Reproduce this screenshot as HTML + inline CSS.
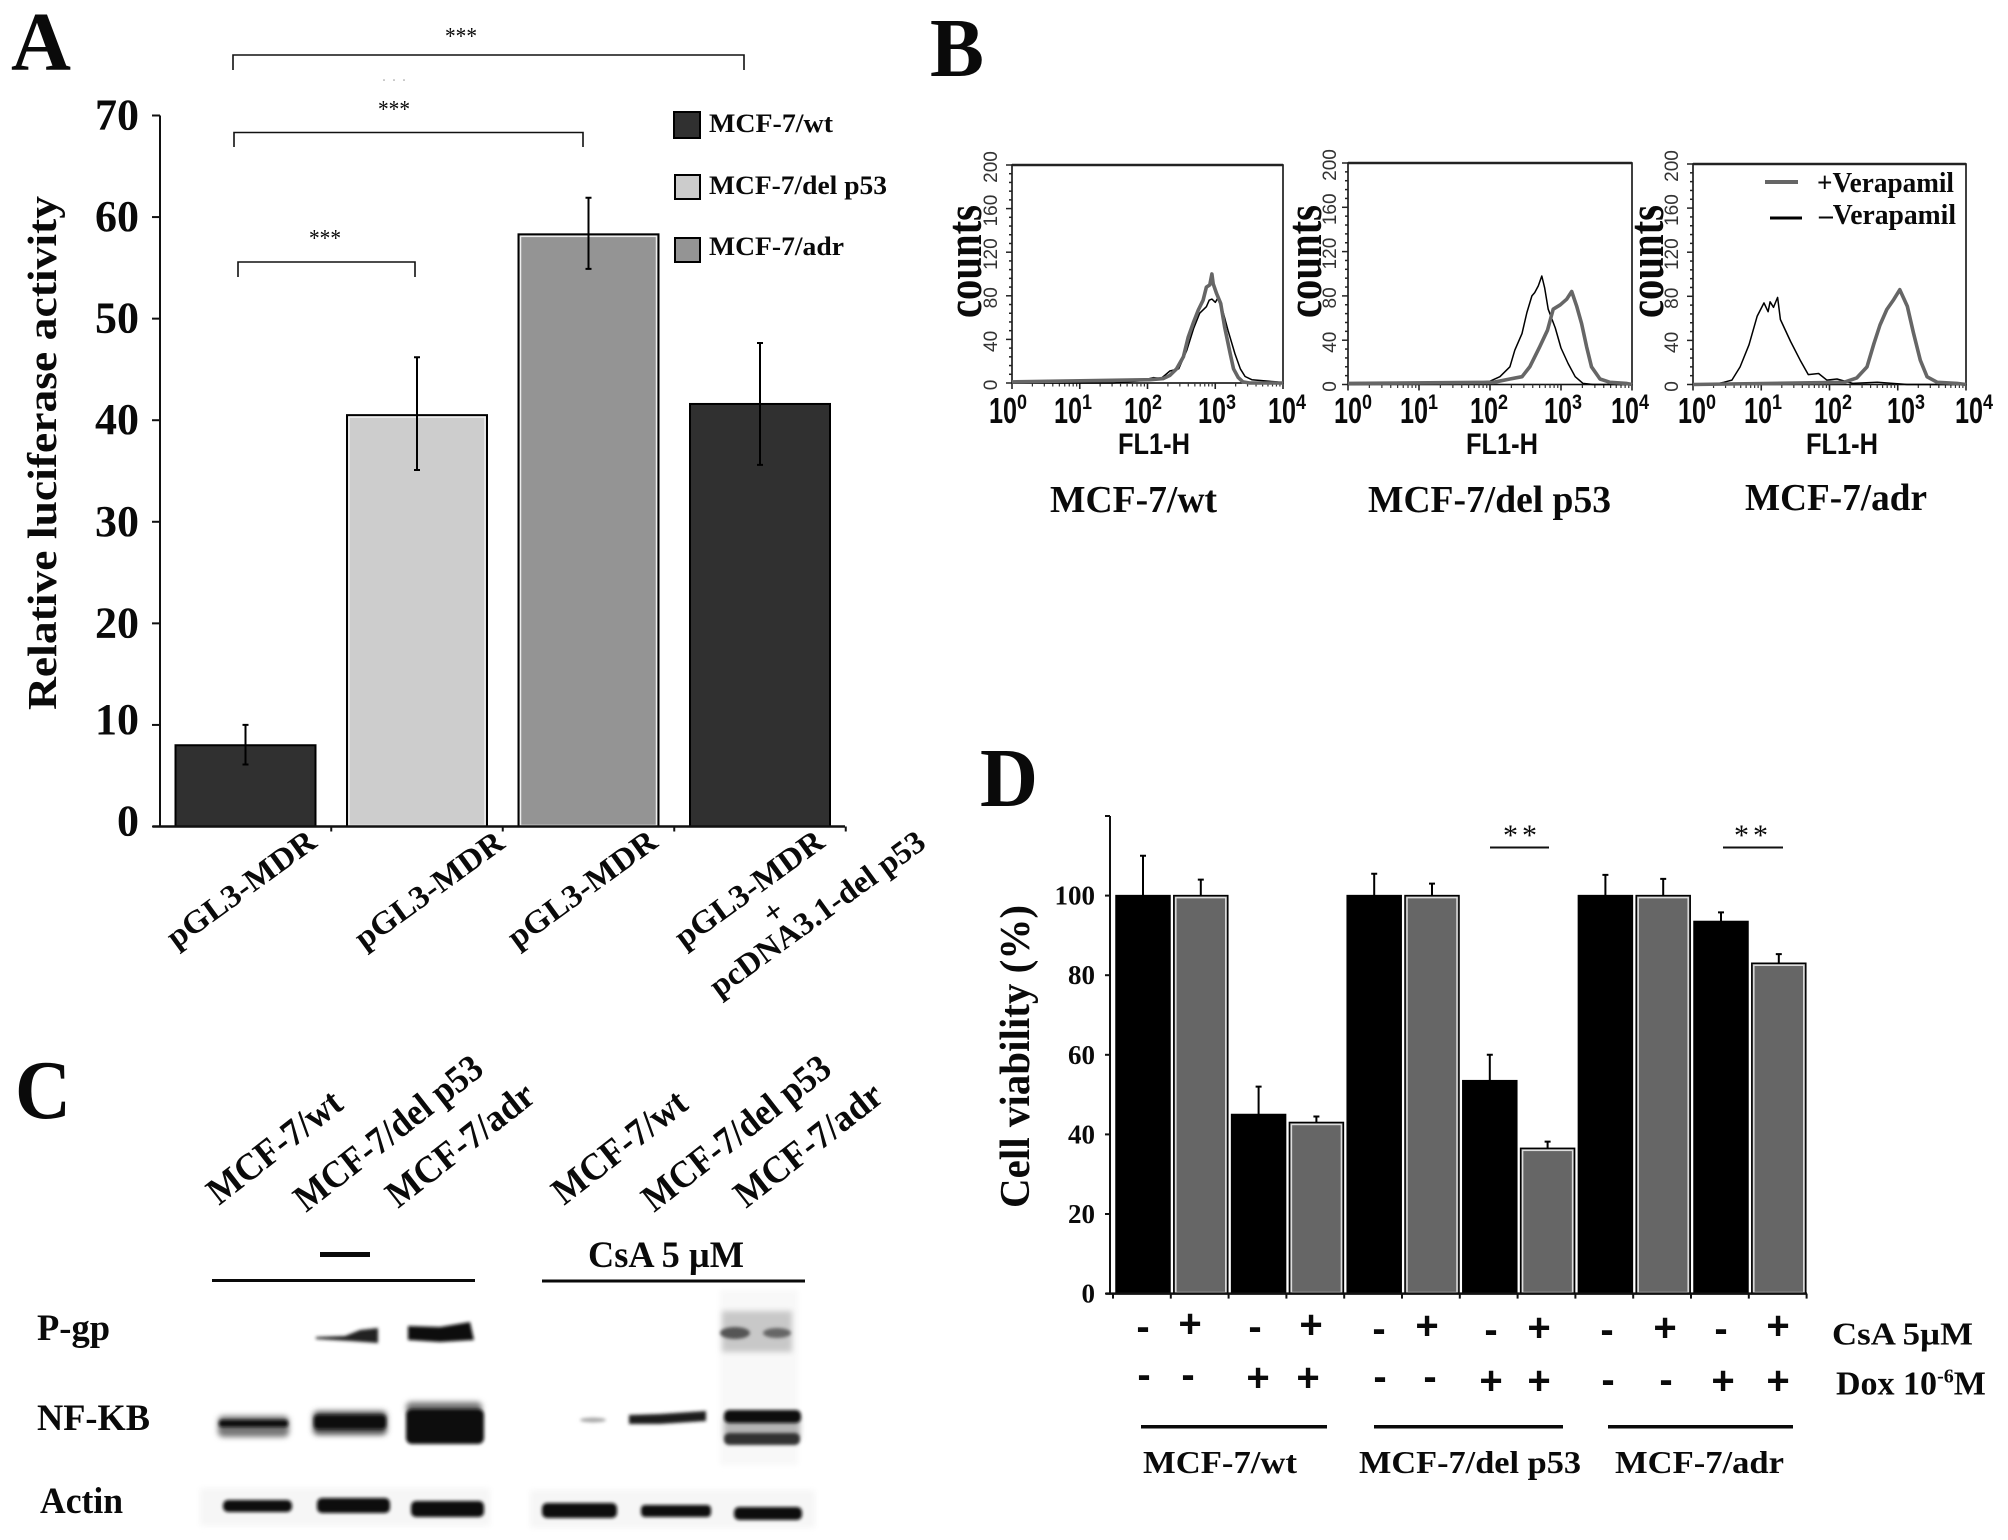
<!DOCTYPE html>
<html lang="en">
<head>
<meta charset="utf-8">
<title>Relative luciferase activity, P-gp and cell viability figure</title>
<style>
html,body{margin:0;padding:0;background:#fff}
svg{display:block}
text{font-family:"Liberation Serif",serif;font-weight:bold;fill:#0a0a0a}
.sans{font-family:"Liberation Sans",sans-serif}
.letter{font-size:84px}
</style>
</head>
<body>
<svg id="fig" xmlns="http://www.w3.org/2000/svg" width="2008" height="1540" viewBox="0 0 2008 1540">
<defs>
<filter id="b1" x="-30%" y="-80%" width="160%" height="260%"><feGaussianBlur stdDeviation="1.6"/></filter>
<filter id="b2" x="-30%" y="-80%" width="160%" height="260%"><feGaussianBlur stdDeviation="3"/></filter>
</defs>
<rect width="2008" height="1540" fill="#fff"/>

<!-- Panel letters -->
<text class="letter" x="11" y="70" textLength="60" lengthAdjust="spacingAndGlyphs">A</text>
<text class="letter" x="930" y="76" textLength="54" lengthAdjust="spacingAndGlyphs">B</text>
<text class="letter" x="15" y="1118" textLength="56" lengthAdjust="spacingAndGlyphs">C</text>
<text class="letter" x="980" y="806" textLength="58" lengthAdjust="spacingAndGlyphs">D</text>

<!-- Panel A static -->
<g id="panelA">
<text transform="translate(56,710) rotate(-90)" font-size="41" textLength="514" lengthAdjust="spacingAndGlyphs">Relative luciferase activity</text>
<g fill="none" stroke="#111" stroke-width="1.6">
<path d="M233 70V55H744V70"/>
<path d="M234 147V132.500H583V147"/>
<path d="M238 277V262H415V277"/>
</g>
<text x="445" y="44" font-size="24" style="font-weight:normal" textLength="32" lengthAdjust="spacingAndGlyphs">***</text>
<text x="378" y="117" font-size="24" style="font-weight:normal" textLength="32" lengthAdjust="spacingAndGlyphs">***</text>
<text x="309" y="246" font-size="24" style="font-weight:normal" textLength="32" lengthAdjust="spacingAndGlyphs">***</text>
<text x="382" y="81" font-size="16" style="fill:#bbb;font-weight:normal" textLength="24">...</text>

<rect x="674" y="112" width="26" height="26" fill="#303030" stroke="#000" stroke-width="2"/>
<rect x="675" y="175" width="25" height="24" fill="#ccc" stroke="#000" stroke-width="2"/>
<rect x="675" y="238" width="25" height="24" fill="#949494" stroke="#000" stroke-width="2"/>
<text x="709" y="132" font-size="26" textLength="124" lengthAdjust="spacingAndGlyphs">MCF-7/wt</text>
<text x="709" y="194" font-size="26" textLength="178" lengthAdjust="spacingAndGlyphs">MCF-7/del p53</text>
<text x="709" y="255" font-size="26" textLength="135" lengthAdjust="spacingAndGlyphs">MCF-7/adr</text>

<text transform="translate(176,949) rotate(-36)" font-size="32" textLength="176" lengthAdjust="spacingAndGlyphs">pGL3-MDR</text>
<text transform="translate(364,950) rotate(-36)" font-size="32" textLength="176" lengthAdjust="spacingAndGlyphs">pGL3-MDR</text>
<text transform="translate(517,949) rotate(-36)" font-size="32" textLength="176" lengthAdjust="spacingAndGlyphs">pGL3-MDR</text>
<text transform="translate(684,949) rotate(-36)" font-size="32" textLength="176" lengthAdjust="spacingAndGlyphs">pGL3-MDR</text>
<text transform="translate(772,926) rotate(-36)" font-size="32">+</text>
<text transform="translate(719,998) rotate(-36)" font-size="32" textLength="258" lengthAdjust="spacingAndGlyphs">pcDNA3.1-del p53</text>
</g>

<!-- Panel B static -->
<g id="panelB">
<text transform="translate(981,318) rotate(-90)" font-size="50" textLength="113" lengthAdjust="spacingAndGlyphs">counts</text>
<text transform="translate(1321,318) rotate(-90)" font-size="50" textLength="113" lengthAdjust="spacingAndGlyphs">counts</text>
<text transform="translate(1663,318) rotate(-90)" font-size="50" textLength="113" lengthAdjust="spacingAndGlyphs">counts</text>
<text class="sans" x="1118" y="454" font-size="30" textLength="72" lengthAdjust="spacingAndGlyphs">FL1-H</text>
<text class="sans" x="1466" y="454" font-size="30" textLength="72" lengthAdjust="spacingAndGlyphs">FL1-H</text>
<text class="sans" x="1806" y="454" font-size="30" textLength="72" lengthAdjust="spacingAndGlyphs">FL1-H</text>
<text x="1050" y="512" font-size="38" textLength="167" lengthAdjust="spacingAndGlyphs">MCF-7/wt</text>
<text x="1368" y="512" font-size="38" textLength="243" lengthAdjust="spacingAndGlyphs">MCF-7/del p53</text>
<text x="1745" y="510" font-size="38" textLength="182" lengthAdjust="spacingAndGlyphs">MCF-7/adr</text>
<line x1="1765" y1="182" x2="1798" y2="182" stroke="#666" stroke-width="4"/>
<line x1="1770" y1="218" x2="1802" y2="218" stroke="#000" stroke-width="3"/>
<text x="1817" y="192" font-size="28" textLength="137" lengthAdjust="spacingAndGlyphs">+Verapamil</text>
<text x="1819" y="224" font-size="28" textLength="137" lengthAdjust="spacingAndGlyphs">–Verapamil</text>
</g>

<!-- Panel C -->
<g id="panelC">
<text transform="translate(219,1206) rotate(-38)" font-size="38" textLength="160" lengthAdjust="spacingAndGlyphs">MCF-7/wt</text>
<text transform="translate(306,1213) rotate(-38)" font-size="38" textLength="228" lengthAdjust="spacingAndGlyphs">MCF-7/del p53</text>
<text transform="translate(398,1209) rotate(-38)" font-size="38" textLength="177" lengthAdjust="spacingAndGlyphs">MCF-7/adr</text>
<text transform="translate(564,1206) rotate(-38)" font-size="38" textLength="160" lengthAdjust="spacingAndGlyphs">MCF-7/wt</text>
<text transform="translate(654,1213) rotate(-38)" font-size="38" textLength="228" lengthAdjust="spacingAndGlyphs">MCF-7/del p53</text>
<text transform="translate(746,1209) rotate(-38)" font-size="38" textLength="177" lengthAdjust="spacingAndGlyphs">MCF-7/adr</text>
<rect x="320" y="1252" width="50" height="5" fill="#0a0a0a"/>
<rect x="212" y="1279" width="263" height="3" fill="#0a0a0a"/>
<rect x="542" y="1279.500" width="263" height="3" fill="#0a0a0a"/>
<text x="588" y="1267" font-size="37" textLength="156" lengthAdjust="spacingAndGlyphs" style="font-family:'Liberation Serif','DejaVu Serif',serif">CsA 5 µM</text>
<text x="37" y="1340" font-size="37" textLength="73" lengthAdjust="spacingAndGlyphs">P-gp</text>
<text x="37" y="1430" font-size="37" textLength="113" lengthAdjust="spacingAndGlyphs">NF-KB</text>
<text x="40" y="1513" font-size="37" textLength="83" lengthAdjust="spacingAndGlyphs">Actin</text>

<g filter="url(#b2)">
<rect x="200" y="1488" width="290" height="38" fill="#f6f6f6"/>
<rect x="530" y="1490" width="285" height="38" fill="#f6f6f6"/>
<rect x="720" y="1290" width="78" height="175" fill="#f8f8f8"/>
</g>
<g>
<path d="M316 1337L345 1336L360 1330L378 1328V1343L350 1341L316 1339Z" fill="#222" filter="url(#b1)"/>
<path d="M408 1326L440 1327L470 1322L474 1340L440 1342L408 1340Z" fill="#0c0c0c" filter="url(#b1)"/>
<rect x="722" y="1311" width="70" height="41" fill="#c8c8c8" filter="url(#b2)"/>
<ellipse cx="735" cy="1333" rx="15" ry="6" fill="#555" filter="url(#b1)"/>
<ellipse cx="777" cy="1333" rx="14" ry="5" fill="#666" filter="url(#b1)"/>
</g>
<g>
<rect x="218" y="1416" width="71" height="21" rx="5" fill="#777" filter="url(#b2)"/>
<rect x="219" y="1420" width="69" height="7" rx="3" fill="#111" filter="url(#b1)"/>
<rect x="313" y="1411" width="74" height="24" rx="5" fill="#555" filter="url(#b2)"/>
<rect x="314" y="1415" width="72" height="14" rx="4" fill="#111" filter="url(#b1)"/>
<rect x="406" y="1402" width="76" height="12" rx="5" fill="#777" filter="url(#b2)"/>
<rect x="406" y="1409" width="78" height="35" rx="6" fill="#0a0a0a" filter="url(#b1)"/>
<ellipse cx="593" cy="1420" rx="13" ry="2.500" fill="#aaa" filter="url(#b1)"/>
<path d="M629 1415L660 1414L706 1411V1421L660 1424L629 1424Z" fill="#1c1c1c" filter="url(#b1)"/>
<rect x="724" y="1418" width="76" height="20" fill="#b4b4b4" filter="url(#b2)"/>
<rect x="724" y="1410" width="77" height="13" rx="5" fill="#0e0e0e" filter="url(#b1)"/>
<rect x="724" y="1433" width="76" height="12" rx="5" fill="#333" filter="url(#b1)"/>
</g>
<g fill="#0e0e0e" filter="url(#b1)">
<rect x="223" y="1500" width="69" height="12" rx="5"/>
<rect x="317" y="1498" width="73" height="15" rx="5"/>
<rect x="411" y="1501" width="73" height="16" rx="5"/>
<rect x="542" y="1503" width="75" height="15" rx="5"/>
<rect x="641" y="1505" width="70" height="12" rx="4"/>
<rect x="734" y="1507" width="68" height="13" rx="5"/>
</g>
</g>

<!-- Panel D static -->
<g id="panelD">
<text transform="translate(1029,1208) rotate(-90)" font-size="42" textLength="303" lengthAdjust="spacingAndGlyphs">Cell viability (%)</text>
<line x1="1490" y1="847.500" x2="1549" y2="847.500" stroke="#111" stroke-width="2"/>
<line x1="1723" y1="847.500" x2="1783" y2="847.500" stroke="#111" stroke-width="2"/>
<text x="1503" y="845" font-size="30" style="font-weight:normal" textLength="34">* *</text>
<text x="1734" y="845" font-size="30" style="font-weight:normal" textLength="34">* *</text>
<g font-size="40" text-anchor="middle">
<text class="sans" x="1143" y="1340">-</text>
<text class="sans" x="1190" y="1337">+</text>
<text class="sans" x="1255" y="1340">-</text>
<text class="sans" x="1311" y="1338">+</text>
<text class="sans" x="1379" y="1342">-</text>
<text class="sans" x="1427" y="1339">+</text>
<text class="sans" x="1491" y="1343">-</text>
<text class="sans" x="1539" y="1341">+</text>
<text class="sans" x="1607" y="1343">-</text>
<text class="sans" x="1665" y="1341">+</text>
<text class="sans" x="1721" y="1342">-</text>
<text class="sans" x="1778" y="1339">+</text>
</g>
<g font-size="40" text-anchor="middle">
<text class="sans" x="1144" y="1388">-</text>
<text class="sans" x="1188" y="1388">-</text>
<text class="sans" x="1258" y="1391">+</text>
<text class="sans" x="1308" y="1391">+</text>
<text class="sans" x="1380" y="1390">-</text>
<text class="sans" x="1430" y="1390">-</text>
<text class="sans" x="1491" y="1394">+</text>
<text class="sans" x="1539" y="1394">+</text>
<text class="sans" x="1608" y="1393">-</text>
<text class="sans" x="1666" y="1393">-</text>
<text class="sans" x="1723" y="1394">+</text>
<text class="sans" x="1778" y="1394">+</text>
</g>
<text x="1832" y="1344.500" font-size="32" textLength="141" lengthAdjust="spacingAndGlyphs">CsA 5µM</text>
<text x="1836" y="1394.500" font-size="34">Dox 10<tspan dy="-12" font-size="20">-6</tspan><tspan dy="12">M</tspan></text>
<rect x="1141" y="1425" width="186" height="3.500" fill="#0a0a0a"/>
<rect x="1374" y="1425" width="189" height="3.500" fill="#0a0a0a"/>
<rect x="1608" y="1425" width="185" height="3.500" fill="#0a0a0a"/>
<text x="1143" y="1473" font-size="32" textLength="154" lengthAdjust="spacingAndGlyphs">MCF-7/wt</text>
<text x="1359" y="1473" font-size="32" textLength="222" lengthAdjust="spacingAndGlyphs">MCF-7/del p53</text>
<text x="1615" y="1473" font-size="32" textLength="169" lengthAdjust="spacingAndGlyphs">MCF-7/adr</text>
</g>
</svg>

<script>
// ---------- Panel A data ----------
const aValues = [8, 40.5, 58.3, 41.6];
const aErrLow = [6.1, 35.1, 54.9, 35.6];
const aErrHigh = [10, 46.2, 61.9, 47.6];
const aTickLabels = [0, 10, 20, 30, 40, 50, 60, 70];
const aSeries = ['wt', 'del', 'adr', 'wt'];

// ---------- Panel B data (log10 fluorescence, counts) ----------
const b1BlackLog = [0, 1.5, 1.89, 2.09, 2.2, 2.33, 2.46, 2.58, 2.68, 2.77, 2.87, 2.91, 2.95, 3.0, 3.05, 3.12, 3.19, 3.29, 3.37, 3.44, 3.54, 3.71, 3.91, 4];
const b1BlackCounts = [0, 0, 2, 5, 4, 11, 13, 30, 50, 64, 70, 76, 77, 74, 79, 64, 48, 27, 13, 6, 3, 2, 1, 0];
const b1GrayLog = [0, 2.04, 2.23, 2.33, 2.43, 2.53, 2.6, 2.68, 2.75, 2.82, 2.87, 2.92, 2.95, 2.97, 3.02, 3.08, 3.14, 3.22, 3.27, 3.34, 3.41, 3.51, 4];
const b1GrayCounts = [1, 3, 4, 7, 13, 24, 42, 56, 67, 76, 88, 90, 100, 91, 82, 73, 51, 27, 13, 5, 1, 0, 0];
const b2BlackLog = [0, 1.58, 2.0, 2.14, 2.28, 2.35, 2.45, 2.52, 2.59, 2.63, 2.68, 2.73, 2.77, 2.82, 2.92, 3.0, 3.1, 3.2, 3.31, 3.45, 4];
const b2BlackCounts = [0, 1, 3, 7, 16, 31, 46, 65, 80, 83, 89, 98, 87, 68, 51, 33, 19, 7, 1, 0, 0];
const b2GrayLog = [0, 2.05, 2.28, 2.45, 2.56, 2.7, 2.81, 2.89, 2.99, 3.08, 3.15, 3.22, 3.29, 3.36, 3.43, 3.55, 3.69, 3.92, 4];
const b2GrayCounts = [1, 2, 5, 7, 16, 34, 49, 68, 72, 77, 84, 71, 55, 34, 16, 5, 2, 1, 0];
const b3BlackLog = [0, 0.3, 0.45, 0.57, 0.69, 0.82, 0.94, 1.04, 1.1, 1.13, 1.18, 1.24, 1.28, 1.43, 1.57, 1.69, 1.84, 1.96, 2.11, 2.34, 2.7, 3.14, 4];
const b3BlackCounts = [0, 0, 2, 4, 16, 36, 62, 74, 66, 75, 70, 79, 59, 39, 22, 9, 10, 4, 5, 1, 2, 0, 0];
const b3GrayLog = [0, 2.21, 2.4, 2.55, 2.65, 2.74, 2.84, 2.94, 3.03, 3.14, 3.23, 3.33, 3.43, 3.58, 3.87, 4];
const b3GrayCounts = [0, 2, 6, 16, 37, 54, 68, 77, 86, 71, 47, 22, 7, 2, 1, 0];
const bCountTicks = [0, 40, 80, 120, 160, 200];
const bDecadeTicks = [0, 1, 2, 3, 4];

// ---------- Panel D data ----------
const dValues = [100, 100, 45, 43, 100, 100, 53.5, 36.5, 100, 100, 93.5, 83];
const dErrHigh = [110, 104, 52, 44.5, 105.5, 103, 60, 38.2, 105.2, 104.2, 95.8, 85.3];
const dTickLabels = [0, 20, 40, 60, 80, 100];
const dAxisMax = 120;

// ---------- helpers ----------
const NS = 'http://www.w3.org/2000/svg';
function mk(tag, attrs, parent) {
  const e = document.createElementNS(NS, tag);
  for (const k in attrs) e.setAttribute(k, attrs[k]);
  parent.appendChild(e);
  return e;
}

// ---------- Panel A ----------
const panelA = document.getElementById('panelA');
const aY = v => 826.5 - v * (711 / 70);
const aBarLeft = i => 175.5 + i * 171.5;
const aBarW = 140;
const aFill = { wt: '#303030', del: '#cdcdcd', adr: '#949494' };

aValues.forEach((v, i) => {
  const bar = mk('rect', { x: aBarLeft(i), y: aY(v), width: aBarW, height: aY(0) - aY(v), fill: aFill[aSeries[i]], stroke: '#000', 'stroke-width': 2 }, panelA);
  
  
  if (aSeries[i] !== 'wt') {
    const inner = mk('rect', { x: aBarLeft(i) + 2, y: aY(v) + 2, width: aBarW - 4, height: aY(0) - aY(v) - 3, fill: 'none', stroke: '#eee', 'stroke-width': 1.5 }, panelA);
    
    
  }
  const cx = aBarLeft(i) + aBarW / 2;
  const err = mk('path', { d: `M${cx} ${aY(aErrHigh[i])}V${aY(aErrLow[i])}M${cx - 3} ${aY(aErrHigh[i])}h6M${cx - 3} ${aY(aErrLow[i])}h6`, stroke: '#000', 'stroke-width': 2, fill: 'none' }, panelA);
  
  
});

const aYAxis = mk('line', { x1: 160, y1: aY(70), x2: 160, y2: aY(0) + 1, stroke: '#111', 'stroke-width': 2 }, panelA);


const aXAxis = mk('line', { x1: 153, y1: aY(0), x2: 845, y2: aY(0), stroke: '#111', 'stroke-width': 2.5 }, panelA);


aTickLabels.forEach(v => {
  const tick = mk('line', { x1: 152, y1: aY(v), x2: 160, y2: aY(v), stroke: '#111', 'stroke-width': 2 }, panelA);
  
  
  const lab = mk('text', { x: 139, y: aY(v) + (v <= 10 ? 9 : 14), 'font-size': 44, 'text-anchor': 'end' }, panelA);
  
  
  lab.textContent = v;
});
aValues.forEach((v, i) => {
  const x = aBarLeft(i) + aBarW + 15.75;
  const tick = mk('line', { x1: x, y1: aY(0), x2: x, y2: aY(0) + 5, stroke: '#111', 'stroke-width': 2 }, panelA);
  
  
});

// ---------- Panel B ----------
const panelB = document.getElementById('panelB');
const bPlots = [
  { left: 1012, right: 1283, top: 165, bottom: 383, labelX: 990, black: [b1BlackLog, b1BlackCounts], gray: [b1GrayLog, b1GrayCounts], tickLabelX: [1009, 1074, 1144, 1218, 1288] },
  { left: 1348, right: 1632, top: 163, bottom: 384.5, labelX: 1329, black: [b2BlackLog, b2BlackCounts], gray: [b2GrayLog, b2GrayCounts], tickLabelX: [1354, 1420, 1490, 1564, 1631] },
  { left: 1693, right: 1966, top: 164, bottom: 384.5, labelX: 1671, black: [b3BlackLog, b3BlackCounts], gray: [b3GrayLog, b3GrayCounts], tickLabelX: [1698, 1764, 1834, 1907, 1975] }
];
bPlots.forEach(p => {
  const xs = l => p.left + (p.right - p.left) * l / 4;
  const ys = c => p.bottom - (p.bottom - p.top) * c / 200;
  const frame = mk('rect', { x: p.left, y: p.top, width: p.right - p.left, height: p.bottom - p.top, fill: 'none', stroke: '#111', 'stroke-width': 1.6 }, panelB);
  
  
  const topEdge = mk('line', { x1: p.left, y1: p.top, x2: p.right, y2: p.top, stroke: '#222', 'stroke-width': 2.5 }, panelB);
  
  
  for (let c = 0; c <= 200; c += 8) {
    const major = c % 40 === 0;
    const t = mk('line', { x1: p.left - (major ? 6 : 3), y1: ys(c), x2: p.left, y2: ys(c), stroke: '#222', 'stroke-width': 1.5 }, panelB);
    
    
  }
  bCountTicks.forEach(c => {
    const lab = mk('text', { transform: `translate(${p.labelX + 7},${ys(c) + 2}) rotate(-90)`, 'font-size': 19, 'text-anchor': 'middle', class: 'sans', style: 'font-weight:normal;fill:#333' }, panelB);
    
    
    lab.textContent = c;
  });
  bDecadeTicks.forEach(d => {
    const major = mk('line', { x1: xs(d), y1: p.bottom, x2: xs(d), y2: p.bottom + 6, stroke: '#222', 'stroke-width': 1.6 }, panelB);
    
    
    if (d < 4) {
      for (let m = 2; m < 10; m++) {
        const mx = xs(d + Math.log10(m));
        const minor = mk('line', { x1: mx, y1: p.bottom, x2: mx, y2: p.bottom + 3.5, stroke: '#333', 'stroke-width': 1.2 }, panelB);
        
        
      }
    }
    const cx = p.tickLabelX[d];
    const ten = mk('text', { x: cx - 20, y: 423, 'font-size': 36, class: 'sans', textLength: 28, lengthAdjust: 'spacingAndGlyphs' }, panelB);
    
    
    ten.textContent = '10';
    const sup = mk('text', { x: cx + 8, y: 409, 'font-size': 21, class: 'sans', textLength: 10, lengthAdjust: 'spacingAndGlyphs' }, panelB);
    
    
    sup.textContent = d;
  });
  const pts = s => s[0].map((l, i) => `${xs(l).toFixed(1)},${ys(s[1][i]).toFixed(1)}`).join(' ');
  const blackLine = mk('polyline', { points: pts(p.black), fill: 'none', stroke: '#000', 'stroke-width': 1.5, 'stroke-linejoin': 'round' }, panelB);
  
  
  const grayLine = mk('polyline', { points: pts(p.gray), fill: 'none', stroke: '#666', 'stroke-width': 3.6, 'stroke-linejoin': 'round' }, panelB);
  
  
});

// ---------- Panel D ----------
const panelD = document.getElementById('panelD');
const dY = v => 1293.6 - v * 3.98;
const dBarLeft = i => 1116 + i * 57.8;
const dBarW = 54;
dValues.forEach((v, i) => {
  const isGray = i % 2 === 1;
  const cx = dBarLeft(i) + dBarW / 2;
  const err = mk('path', { d: `M${cx} ${dY(v)}V${dY(dErrHigh[i])}M${cx - 3} ${dY(dErrHigh[i])}h6`, stroke: '#000', 'stroke-width': 2, fill: 'none' }, panelD);
  
  
  const bar = mk('rect', { x: dBarLeft(i), y: dY(v), width: dBarW, height: dY(0) - dY(v), fill: isGray ? '#666' : '#000', stroke: '#000', 'stroke-width': 1.5 }, panelD);
  
  
  if (isGray) {
    const inner = mk('rect', { x: dBarLeft(i) + 2, y: dY(v) + 2, width: dBarW - 4, height: dY(0) - dY(v) - 3, fill: 'none', stroke: '#ddd', 'stroke-width': 1.5 }, panelD);
    
    
  }
});
const dYAxis = mk('line', { x1: 1110, y1: dY(dAxisMax), x2: 1110, y2: dY(0) + 1, stroke: '#111', 'stroke-width': 2 }, panelD);


const dXAxis = mk('line', { x1: 1106, y1: dY(0), x2: 1807, y2: dY(0), stroke: '#111', 'stroke-width': 2.5 }, panelD);


dTickLabels.concat([dAxisMax]).forEach(v => {
  const tick = mk('line', { x1: 1105, y1: dY(v), x2: 1110, y2: dY(v), stroke: '#111', 'stroke-width': 2 }, panelD);
  
  
});
dTickLabels.forEach(v => {
  const lab = mk('text', { x: 1095, y: dY(v) + 9, 'font-size': 27, 'text-anchor': 'end' }, panelD);
  
  
  lab.textContent = v;
});
dValues.concat([0]).forEach((v, i) => {
  const x = dBarLeft(i) - 3;
  const tick = mk('line', { x1: x, y1: dY(0), x2: x, y2: dY(0) + 5, stroke: '#111', 'stroke-width': 2 }, panelD);
  
  
});
</script>
</body>
</html>
